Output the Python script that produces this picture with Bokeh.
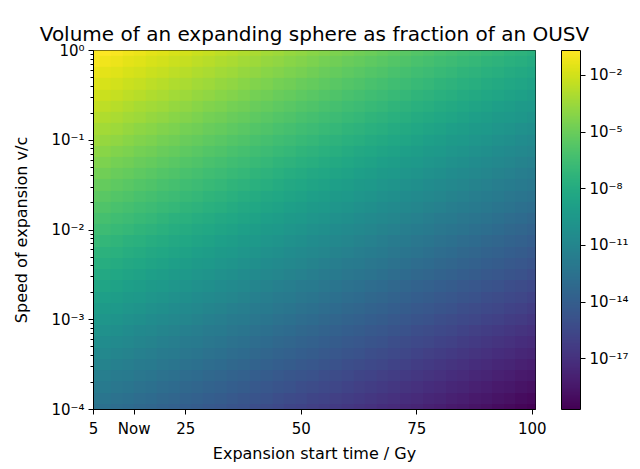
import numpy as np
from bokeh.plotting import figure
from bokeh.models import (LogColorMapper, ColorBar, FixedTicker, CustomJSTickFormatter,
                          Range1d, AllLabels)
from bokeh.palettes import Viridis256
from bokeh.embed import file_html
from bokeh.resources import INLINE

# ---- data ----
start_times = [5, 7.5, 10, 12.5, 15, 17.5, 20, 22.5, 25, 27.5, 30, 32.5, 35, 37.5, 40, 42.5, 45,
               47.5, 50, 52.5, 55, 57.5, 60, 62.5, 65, 67.5, 70, 72.5, 75, 77.5, 80, 82.5, 85,
               87.5, 90, 92.5, 95, 97.5, 100]  # Gy
speed_exponents = [-4.0, -3.875, -3.75, -3.625, -3.5, -3.375, -3.25, -3.125, -3.0, -2.875, -2.75,
                   -2.625, -2.5, -2.375, -2.25, -2.125, -2.0, -1.875, -1.75, -1.625, -1.5, -1.375,
                   -1.25, -1.125, -1.0, -0.875, -0.75, -0.625, -0.5, -0.375, -0.25, -0.125, 0.0]  # log10(v/c)
# log10 of the volume fraction; one row per speed exponent (bottom row = slowest)
log10_fraction = [
    [-12.50, -12.69, -12.87, -13.06, -13.25, -13.43, -13.62, -13.81, -13.99, -14.18, -14.37, -14.55, -14.74, -14.93, -15.12, -15.30, -15.49, -15.68, -15.86, -16.05, -16.24, -16.42, -16.61, -16.80, -16.98, -17.17, -17.36, -17.54, -17.73, -17.92, -18.11, -18.29, -18.48, -18.67, -18.85, -19.04, -19.23, -19.41, -19.60],
    [-12.13, -12.32, -12.50, -12.69, -12.88, -13.06, -13.25, -13.44, -13.62, -13.81, -14.00, -14.18, -14.37, -14.56, -14.75, -14.93, -15.12, -15.31, -15.49, -15.68, -15.87, -16.05, -16.24, -16.43, -16.61, -16.80, -16.99, -17.17, -17.36, -17.55, -17.74, -17.92, -18.11, -18.30, -18.48, -18.67, -18.86, -19.04, -19.23],
    [-11.75, -11.94, -12.12, -12.31, -12.50, -12.68, -12.87, -13.06, -13.24, -13.43, -13.62, -13.80, -13.99, -14.18, -14.37, -14.55, -14.74, -14.93, -15.11, -15.30, -15.49, -15.67, -15.86, -16.05, -16.23, -16.42, -16.61, -16.79, -16.98, -17.17, -17.36, -17.54, -17.73, -17.92, -18.10, -18.29, -18.48, -18.66, -18.85],
    [-11.38, -11.57, -11.75, -11.94, -12.13, -12.31, -12.50, -12.69, -12.87, -13.06, -13.25, -13.43, -13.62, -13.81, -14.00, -14.18, -14.37, -14.56, -14.74, -14.93, -15.12, -15.30, -15.49, -15.68, -15.86, -16.05, -16.24, -16.42, -16.61, -16.80, -16.99, -17.17, -17.36, -17.55, -17.73, -17.92, -18.11, -18.29, -18.48],
    [-11.00, -11.19, -11.37, -11.56, -11.75, -11.93, -12.12, -12.31, -12.49, -12.68, -12.87, -13.05, -13.24, -13.43, -13.62, -13.80, -13.99, -14.18, -14.36, -14.55, -14.74, -14.92, -15.11, -15.30, -15.48, -15.67, -15.86, -16.04, -16.23, -16.42, -16.61, -16.79, -16.98, -17.17, -17.35, -17.54, -17.73, -17.91, -18.10],
    [-10.63, -10.82, -11.00, -11.19, -11.38, -11.56, -11.75, -11.94, -12.12, -12.31, -12.50, -12.68, -12.87, -13.06, -13.25, -13.43, -13.62, -13.81, -13.99, -14.18, -14.37, -14.55, -14.74, -14.93, -15.11, -15.30, -15.49, -15.67, -15.86, -16.05, -16.24, -16.42, -16.61, -16.80, -16.98, -17.17, -17.36, -17.54, -17.73],
    [-10.25, -10.44, -10.62, -10.81, -11.00, -11.18, -11.37, -11.56, -11.74, -11.93, -12.12, -12.30, -12.49, -12.68, -12.87, -13.05, -13.24, -13.43, -13.61, -13.80, -13.99, -14.17, -14.36, -14.55, -14.73, -14.92, -15.11, -15.29, -15.48, -15.67, -15.86, -16.04, -16.23, -16.42, -16.60, -16.79, -16.98, -17.16, -17.35],
    [-9.88, -10.07, -10.25, -10.44, -10.63, -10.81, -11.00, -11.19, -11.37, -11.56, -11.75, -11.93, -12.12, -12.31, -12.50, -12.68, -12.87, -13.06, -13.24, -13.43, -13.62, -13.80, -13.99, -14.18, -14.36, -14.55, -14.74, -14.92, -15.11, -15.30, -15.49, -15.67, -15.86, -16.05, -16.23, -16.42, -16.61, -16.79, -16.98],
    [-9.50, -9.69, -9.87, -10.06, -10.25, -10.43, -10.62, -10.81, -10.99, -11.18, -11.37, -11.55, -11.74, -11.93, -12.12, -12.30, -12.49, -12.68, -12.86, -13.05, -13.24, -13.42, -13.61, -13.80, -13.98, -14.17, -14.36, -14.54, -14.73, -14.92, -15.11, -15.29, -15.48, -15.67, -15.85, -16.04, -16.23, -16.41, -16.60],
    [-9.13, -9.32, -9.50, -9.69, -9.88, -10.06, -10.25, -10.44, -10.62, -10.81, -11.00, -11.18, -11.37, -11.56, -11.75, -11.93, -12.12, -12.31, -12.49, -12.68, -12.87, -13.05, -13.24, -13.43, -13.61, -13.80, -13.99, -14.17, -14.36, -14.55, -14.74, -14.92, -15.11, -15.30, -15.48, -15.67, -15.86, -16.04, -16.23],
    [-8.75, -8.94, -9.12, -9.31, -9.50, -9.68, -9.87, -10.06, -10.24, -10.43, -10.62, -10.80, -10.99, -11.18, -11.37, -11.55, -11.74, -11.93, -12.11, -12.30, -12.49, -12.67, -12.86, -13.05, -13.23, -13.42, -13.61, -13.79, -13.98, -14.17, -14.36, -14.54, -14.73, -14.92, -15.10, -15.29, -15.48, -15.66, -15.85],
    [-8.38, -8.57, -8.75, -8.94, -9.13, -9.31, -9.50, -9.69, -9.87, -10.06, -10.25, -10.43, -10.62, -10.81, -11.00, -11.18, -11.37, -11.56, -11.74, -11.93, -12.12, -12.30, -12.49, -12.68, -12.86, -13.05, -13.24, -13.42, -13.61, -13.80, -13.99, -14.17, -14.36, -14.55, -14.73, -14.92, -15.11, -15.29, -15.48],
    [-8.00, -8.19, -8.37, -8.56, -8.75, -8.93, -9.12, -9.31, -9.49, -9.68, -9.87, -10.05, -10.24, -10.43, -10.62, -10.80, -10.99, -11.18, -11.36, -11.55, -11.74, -11.92, -12.11, -12.30, -12.48, -12.67, -12.86, -13.04, -13.23, -13.42, -13.61, -13.79, -13.98, -14.17, -14.35, -14.54, -14.73, -14.91, -15.10],
    [-7.63, -7.82, -8.00, -8.19, -8.38, -8.56, -8.75, -8.94, -9.12, -9.31, -9.50, -9.68, -9.87, -10.06, -10.25, -10.43, -10.62, -10.81, -10.99, -11.18, -11.37, -11.55, -11.74, -11.93, -12.11, -12.30, -12.49, -12.67, -12.86, -13.05, -13.24, -13.42, -13.61, -13.80, -13.98, -14.17, -14.36, -14.54, -14.73],
    [-7.25, -7.44, -7.62, -7.81, -8.00, -8.18, -8.37, -8.56, -8.74, -8.93, -9.12, -9.30, -9.49, -9.68, -9.87, -10.05, -10.24, -10.43, -10.61, -10.80, -10.99, -11.17, -11.36, -11.55, -11.73, -11.92, -12.11, -12.29, -12.48, -12.67, -12.86, -13.04, -13.23, -13.42, -13.60, -13.79, -13.98, -14.16, -14.35],
    [-6.88, -7.07, -7.25, -7.44, -7.63, -7.81, -8.00, -8.19, -8.37, -8.56, -8.75, -8.93, -9.12, -9.31, -9.50, -9.68, -9.87, -10.06, -10.24, -10.43, -10.62, -10.80, -10.99, -11.18, -11.36, -11.55, -11.74, -11.92, -12.11, -12.30, -12.49, -12.67, -12.86, -13.05, -13.23, -13.42, -13.61, -13.79, -13.98],
    [-6.50, -6.69, -6.87, -7.06, -7.25, -7.43, -7.62, -7.81, -7.99, -8.18, -8.37, -8.55, -8.74, -8.93, -9.12, -9.30, -9.49, -9.68, -9.86, -10.05, -10.24, -10.42, -10.61, -10.80, -10.98, -11.17, -11.36, -11.54, -11.73, -11.92, -12.11, -12.29, -12.48, -12.67, -12.85, -13.04, -13.23, -13.41, -13.60],
    [-6.13, -6.32, -6.50, -6.69, -6.88, -7.06, -7.25, -7.44, -7.62, -7.81, -8.00, -8.18, -8.37, -8.56, -8.75, -8.93, -9.12, -9.31, -9.49, -9.68, -9.87, -10.05, -10.24, -10.43, -10.61, -10.80, -10.99, -11.17, -11.36, -11.55, -11.74, -11.92, -12.11, -12.30, -12.48, -12.67, -12.86, -13.04, -13.23],
    [-5.75, -5.94, -6.12, -6.31, -6.50, -6.68, -6.87, -7.06, -7.24, -7.43, -7.62, -7.80, -7.99, -8.18, -8.37, -8.55, -8.74, -8.93, -9.11, -9.30, -9.49, -9.67, -9.86, -10.05, -10.23, -10.42, -10.61, -10.79, -10.98, -11.17, -11.36, -11.54, -11.73, -11.92, -12.10, -12.29, -12.48, -12.66, -12.85],
    [-5.38, -5.57, -5.75, -5.94, -6.13, -6.31, -6.50, -6.69, -6.87, -7.06, -7.25, -7.43, -7.62, -7.81, -8.00, -8.18, -8.37, -8.56, -8.74, -8.93, -9.12, -9.30, -9.49, -9.68, -9.86, -10.05, -10.24, -10.42, -10.61, -10.80, -10.99, -11.17, -11.36, -11.55, -11.73, -11.92, -12.11, -12.29, -12.48],
    [-5.00, -5.19, -5.37, -5.56, -5.75, -5.93, -6.12, -6.31, -6.49, -6.68, -6.87, -7.05, -7.24, -7.43, -7.62, -7.80, -7.99, -8.18, -8.36, -8.55, -8.74, -8.92, -9.11, -9.30, -9.48, -9.67, -9.86, -10.04, -10.23, -10.42, -10.61, -10.79, -10.98, -11.17, -11.35, -11.54, -11.73, -11.91, -12.10],
    [-4.63, -4.82, -5.00, -5.19, -5.38, -5.56, -5.75, -5.94, -6.12, -6.31, -6.50, -6.68, -6.87, -7.06, -7.25, -7.43, -7.62, -7.81, -7.99, -8.18, -8.37, -8.55, -8.74, -8.93, -9.11, -9.30, -9.49, -9.67, -9.86, -10.05, -10.24, -10.42, -10.61, -10.80, -10.98, -11.17, -11.36, -11.54, -11.73],
    [-4.25, -4.44, -4.62, -4.81, -5.00, -5.18, -5.37, -5.56, -5.74, -5.93, -6.12, -6.30, -6.49, -6.68, -6.87, -7.05, -7.24, -7.43, -7.61, -7.80, -7.99, -8.17, -8.36, -8.55, -8.73, -8.92, -9.11, -9.29, -9.48, -9.67, -9.86, -10.04, -10.23, -10.42, -10.60, -10.79, -10.98, -11.16, -11.35],
    [-3.88, -4.07, -4.25, -4.44, -4.63, -4.81, -5.00, -5.19, -5.37, -5.56, -5.75, -5.93, -6.12, -6.31, -6.50, -6.68, -6.87, -7.06, -7.24, -7.43, -7.62, -7.80, -7.99, -8.18, -8.36, -8.55, -8.74, -8.92, -9.11, -9.30, -9.49, -9.67, -9.86, -10.05, -10.23, -10.42, -10.61, -10.79, -10.98],
    [-3.50, -3.69, -3.87, -4.06, -4.25, -4.43, -4.62, -4.81, -4.99, -5.18, -5.37, -5.55, -5.74, -5.93, -6.12, -6.30, -6.49, -6.68, -6.86, -7.05, -7.24, -7.42, -7.61, -7.80, -7.98, -8.17, -8.36, -8.54, -8.73, -8.92, -9.11, -9.29, -9.48, -9.67, -9.85, -10.04, -10.23, -10.41, -10.60],
    [-3.13, -3.32, -3.50, -3.69, -3.88, -4.06, -4.25, -4.44, -4.62, -4.81, -5.00, -5.18, -5.37, -5.56, -5.75, -5.93, -6.12, -6.31, -6.49, -6.68, -6.87, -7.05, -7.24, -7.43, -7.61, -7.80, -7.99, -8.17, -8.36, -8.55, -8.74, -8.92, -9.11, -9.30, -9.48, -9.67, -9.86, -10.04, -10.23],
    [-2.75, -2.94, -3.12, -3.31, -3.50, -3.68, -3.87, -4.06, -4.24, -4.43, -4.62, -4.80, -4.99, -5.18, -5.37, -5.55, -5.74, -5.93, -6.11, -6.30, -6.49, -6.67, -6.86, -7.05, -7.23, -7.42, -7.61, -7.79, -7.98, -8.17, -8.36, -8.54, -8.73, -8.92, -9.10, -9.29, -9.48, -9.66, -9.85],
    [-2.38, -2.57, -2.75, -2.94, -3.13, -3.31, -3.50, -3.69, -3.87, -4.06, -4.25, -4.43, -4.62, -4.81, -5.00, -5.18, -5.37, -5.56, -5.74, -5.93, -6.12, -6.30, -6.49, -6.68, -6.86, -7.05, -7.24, -7.42, -7.61, -7.80, -7.99, -8.17, -8.36, -8.55, -8.73, -8.92, -9.11, -9.29, -9.48],
    [-2.00, -2.19, -2.37, -2.56, -2.75, -2.93, -3.12, -3.31, -3.49, -3.68, -3.87, -4.05, -4.24, -4.43, -4.62, -4.80, -4.99, -5.18, -5.36, -5.55, -5.74, -5.92, -6.11, -6.30, -6.48, -6.67, -6.86, -7.04, -7.23, -7.42, -7.61, -7.79, -7.98, -8.17, -8.35, -8.54, -8.73, -8.91, -9.10],
    [-1.63, -1.82, -2.00, -2.19, -2.38, -2.56, -2.75, -2.94, -3.12, -3.31, -3.50, -3.68, -3.87, -4.06, -4.25, -4.43, -4.62, -4.81, -4.99, -5.18, -5.37, -5.55, -5.74, -5.93, -6.11, -6.30, -6.49, -6.67, -6.86, -7.05, -7.24, -7.42, -7.61, -7.80, -7.98, -8.17, -8.36, -8.54, -8.73],
    [-1.25, -1.44, -1.62, -1.81, -2.00, -2.18, -2.37, -2.56, -2.74, -2.93, -3.12, -3.30, -3.49, -3.68, -3.87, -4.05, -4.24, -4.43, -4.61, -4.80, -4.99, -5.17, -5.36, -5.55, -5.73, -5.92, -6.11, -6.29, -6.48, -6.67, -6.86, -7.04, -7.23, -7.42, -7.60, -7.79, -7.98, -8.16, -8.35],
    [-0.88, -1.07, -1.25, -1.44, -1.63, -1.81, -2.00, -2.19, -2.37, -2.56, -2.75, -2.93, -3.12, -3.31, -3.50, -3.68, -3.87, -4.06, -4.24, -4.43, -4.62, -4.80, -4.99, -5.18, -5.36, -5.55, -5.74, -5.92, -6.11, -6.30, -6.49, -6.67, -6.86, -7.05, -7.23, -7.42, -7.61, -7.79, -7.98],
    [-0.50, -0.69, -0.87, -1.06, -1.25, -1.43, -1.62, -1.81, -1.99, -2.18, -2.37, -2.55, -2.74, -2.93, -3.12, -3.30, -3.49, -3.68, -3.86, -4.05, -4.24, -4.42, -4.61, -4.80, -4.98, -5.17, -5.36, -5.54, -5.73, -5.92, -6.11, -6.29, -6.48, -6.67, -6.85, -7.04, -7.23, -7.41, -7.60],
]
x_tick_values = [5, 13.8, 25, 50, 75, 100]
x_tick_labels = ["5", "Now", "25", "50", "75", "100"]
y_tick_values = [1e-4, 1e-3, 1e-2, 1e-1, 1e0]
colorbar_ticks = [1e-2, 1e-5, 1e-8, 1e-11, 1e-14, 1e-17]
color_low, color_high = 10 ** -19.68, 10 ** -0.68
x_limits = (5, 100.7)
y_limits = (1e-4, 1.0)

FONT = "DejaVu Sans"

img = 10.0 ** np.array(log10_fraction)
dt = start_times[1] - start_times[0]
de = speed_exponents[1] - speed_exponents[0]
x0 = start_times[0] - dt / 2
x1 = start_times[-1] + dt / 2
y0 = 10 ** (speed_exponents[0] - de / 2)
y1 = 10 ** (speed_exponents[-1] + de / 2)

mapper = LogColorMapper(palette=Viridis256, low=color_low, high=color_high)

p = figure(output_backend="svg", toolbar_location=None,
           x_range=Range1d(*x_limits), y_range=Range1d(*y_limits), y_axis_type="log",
           title="Volume of an expanding sphere as fraction of an OUSV",
           min_border_left=93, min_border_top=50, min_border_bottom=56, min_border_right=10,
           frame_width=442, frame_height=359)

p.image(image=[img], x=x0, y=y0, dw=x1 - x0, dh=y1 - y0, color_mapper=mapper)

p.grid.visible = False
p.outline_line_color = "black"
p.outline_line_width = 1
p.background_fill_color = "white"
p.border_fill_color = "white"

p.title.text_font = FONT
p.title.text_font_size = "20px"
p.title.text_font_style = "normal"
p.title.align = "center"
p.title.text_color = "black"

sup_code = """
const sup = {'-':'\u207b','0':'\u2070','1':'\u00b9','2':'\u00b2','3':'\u00b3','4':'\u2074','5':'\u2075','6':'\u2076','7':'\u2077','8':'\u2078','9':'\u2079'};
const e = Math.round(Math.log10(tick));
return '10' + String(e).split('').map(c => sup[c]).join('');
"""
sup_fmt = CustomJSTickFormatter(code=sup_code)

minor = [k * 10.0 ** e for e in range(-4, 0) for k in range(2, 10)]

xa = p.xaxis[0]
xa.ticker = FixedTicker(ticks=x_tick_values)
xa.major_label_overrides = {v: s for v, s in zip(x_tick_values, x_tick_labels)}
xa.axis_label = "Expansion start time / Gy"

ya = p.yaxis[0]
ya.ticker = FixedTicker(ticks=y_tick_values, minor_ticks=minor)
ya.formatter = sup_fmt
ya.axis_label = "Speed of expansion v/c"

for ax in (xa, ya):
    ax.axis_label_text_font = FONT
    ax.axis_label_text_font_size = "16px"
    ax.axis_label_text_font_style = "normal"
    ax.axis_label_text_color = "black"
    ax.major_label_text_font = FONT
    ax.major_label_text_font_size = "15px"
    ax.major_label_text_color = "black"
    ax.axis_line_color = "black"
    ax.major_tick_line_color = "black"
    ax.major_tick_out = 5
    ax.major_tick_in = 0
    ax.minor_tick_out = 3
    ax.minor_tick_in = 0
xa.major_label_standoff = 5
xa.axis_label_standoff = 3
ya.major_label_standoff = 4
ya.axis_label_standoff = 17
xa.minor_tick_line_color = None
ya.minor_tick_line_color = "black"

cb = ColorBar(color_mapper=mapper, ticker=FixedTicker(ticks=colorbar_ticks), formatter=sup_fmt,
              major_label_policy=AllLabels(),
              width=19, height=359, padding=0, margin=0, location=(26, 0),
              major_tick_out=5, major_tick_in=0, major_tick_line_color="black",
              minor_tick_line_color=None,
              bar_line_color="black", border_line_color=None, background_fill_alpha=0,
              major_label_text_font=FONT, major_label_text_font_size="15px",
              major_label_text_color="black", label_standoff=4)
p.add_layout(cb, "right")

open("out.html", "w").write(file_html(p, INLINE))
